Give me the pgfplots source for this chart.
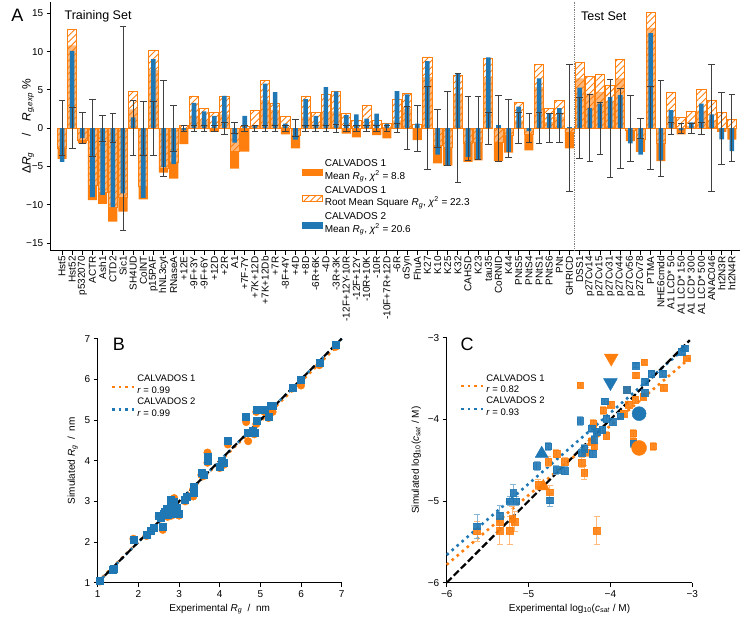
\documentclass[border=0pt]{standalone}
\usepackage{fontspec}
\setmainfont{Liberation Sans}
\usepackage{pgfplots}
\pgfplotsset{compat=1.18}
\usepackage{pgfplotstable}
\usetikzlibrary{patterns.meta}
\definecolor{cone}{HTML}{FF7F0E}
\definecolor{ctwo}{HTML}{1F77B4}
\newcommand{\Rg}{\textit{R}\textsubscript{\textit{g}}}

\pgfplotstableread{
x m1 r1 m2 err z
0 -4.0 -2.7 -4.4 3.6 0
1 10.8 12.9 10.1 2.7 0
2 -2.0 -1.6 -1.3 2.05 0
3 -9.4 -7.5 -9.0 3.75 0
4 -9.9 -8.4 -8.7 1.7 0
5 -12.2 -10.3 -10.3 1.9 0
6 -10.9 -9.0 -8.5 13.3 0
7 2.45 4.85 1.4 3.6 0
8 -9.3 -7.6 -9.1 3.5 0
9 7.6 10.1 9.0 3.5 0
10 -5.8 -5.3 -5.1 6.3 0
11 -6.6 -4.5 -4.7 3.0 0
12 -2.1 0.4 -0.3 0.4 0
13 1.6 4.2 3.3 0.4 0
14 1.0 2.6 2.2 0.4 0
15 -0.5 2.0 1.6 0.4 0
16 1.8 4.2 4.2 0.8 0
17 -5.3 -3.0 -1.9 0.7 0
18 -3.05 0.2 1.6 0.4 0
19 0.3 2.35 0.3 0.4 0
20 3.7 6.2 5.8 0.4 0
21 2.4 3.2 4.7 0.4 0
22 -0.8 1.5 0.6 0.4 0
23 -2.65 -1.0 -1.5 1.1 0
24 1.5 4.2 3.8 0.4 0
25 0.5 2.1 1.6 0.4 0
26 2.0 4.4 5.35 0.4 0
27 2.2 4.85 4.8 0.5 0
28 -0.7 1.9 1.7 0.4 0
29 -1.2 1.0 1.8 0.4 0
30 0.5 3.0 1.25 0.4 0
31 -0.9 1.0 1.9 0.4 0
32 -1.35 0.6 0.6 0.4 0
33 1.0 3.7 4.85 0.6 0
34 2.5 4.5 4.4 2.8 0
35 -1.55 0.5 0.6 3.0 0
36 6.7 9.3 8.75 5.4 0
37 -4.6 -2.2 -3.45 2.5 0
38 -4.9 -2.5 -4.8 4.8 0
39 4.5 6.9 7.15 7.1 0
40 -4.4 -2.0 -3.75 4.2 0
41 -4.2 -1.8 -4.05 4.1 0
42 6.5 9.1 9.25 2.1 0
43 -4.3 -1.8 0.4 4.3 0
44 -3.2 -1.0 -3.1 3.8 0
45 1.0 3.3 2.8 2.0 0
46 -2.9 -0.8 -0.4 1.9 0
47 5.4 8.3 6.5 2.0 0
48 0.8 2.6 1.9 1.9 0
49 1.5 3.65 2.6 1.9 0
50 -2.65 -0.5 0.15 8.3 0
51 6.5 8.6 5.3 4.0 0
52 4.5 6.7 2.6 4.4 0
53 4.75 7.05 3.2 3.4 0
54 3.5 5.6 4.05 6.4 0
55 6.5 9.0 4.3 5.2 0
56 -1.7 -0.3 -2.0 4.3 0
57 -3.1 -1.5 -3.45 1.3 0
58 13.1 15.1 12.4 5.4 0
59 -4.3 -2.0 -4.2 6.3 0
60 1.5 4.65 2.35 0.75 0
61 -0.8 1.4 -0.3 0.65 0
62 0.3 2.2 0.75 0.65 0
63 2.3 5.0 3.2 0.75 0
64 1.0 3.6 1.8 8.3 0
65 -0.5 2.05 -1.45 4.7 0
66 -1.5 1.1 -3.0 4.4 0
}\dataA

\pgfplotstableread{
e s1 s2
1.05 1.03 1.05
1.38 1.32 1.33
1.40 1.34 1.35
1.88 2.08 2.05
2.20 2.15 2.17
2.30 2.26 2.27
2.37 2.33 2.35
2.50 2.62 2.65
2.55 2.58 2.60
2.60 2.30 2.38
2.62 2.67 2.70
2.65 2.72 2.75
2.70 2.78 2.82
2.72 2.62 2.68
2.75 2.76 2.80
2.80 2.85 2.90
2.80 3.00 3.05
2.82 2.65 2.70
2.85 2.90 2.95
2.88 3.08 3.00
2.90 2.70 2.75
2.95 2.80 2.85
3.00 2.65 2.70
3.15 3.00 3.05
3.18 3.10 3.12
3.35 3.30 3.35
3.35 3.12 3.22
3.55 3.65 3.70
3.60 3.62 3.65
3.70 4.20 4.10
3.70 3.95 4.00
4.00 3.82 3.85
4.05 3.98 4.00
4.10 3.90 3.95
4.20 4.40 4.48
4.65 4.95 5.08
4.70 4.48 4.70
4.80 4.70 4.73
4.85 4.65 4.70
4.90 5.20 5.25
4.90 4.90 4.98
5.10 5.20 5.25
5.20 5.05 5.08
5.25 5.30 5.35
5.30 5.20 5.35
5.80 5.78 5.80
6.00 5.85 6.00
6.45 6.35 6.40
6.85 6.80 6.85
}\dataB

\pgfplotstableread{
x y e
-5.63 -5.37 0.12
-5.35 -5.25 0.10
-5.35 -5.36 0.17
-5.23 -5.36 0.17
-5.20 -5.22 0.15
-5.17 -5.25 0.12
-4.74 -4.89 0.08
-4.88 -4.80 0.06
-4.76 -4.52 0.06
-4.66 -4.42 0.05
-4.56 -4.52 0.05
-4.35 -4.53 0.06
-4.32 -4.65 0.08
-4.30 -4.40 0.05
-4.23 -4.27 0.05
-4.20 -4.33 0.05
-4.21 -4.05 0.05
-4.17 -5.36 0.17
-4.09 -3.89 0.05
-4.05 -4.20 0.05
-4.00 -3.82 0.04
-4.37 -3.58 0.03
-3.80 -3.64 0.04
-3.78 -3.82 0.04
-3.72 -4.17 0.05
-3.72 -4.27 0.05
-3.70 -3.76 0.04
-3.60 -3.72 0.04
-3.48 -4.33 0.05
-3.35 -3.61 0.04
-3.84 -3.93 0.04
-3.59 -3.30 0.03
-3.69 -3.46 0.03
-3.07 -3.25 0.03
}\dataCa

\pgfplotstableread{
x y e
-5.63 -5.31 0.15
-5.35 -5.18 0.12
-5.23 -5.00 0.06
-5.19 -4.90 0.10
-5.15 -5.00 0.06
-4.90 -4.57 0.05
-4.76 -4.33 0.05
-4.74 -4.99 0.08
-4.66 -4.62 0.05
-4.56 -4.63 0.05
-4.37 -4.02 0.05
-4.35 -4.41 0.05
-4.32 -4.36 0.05
-4.23 -4.11 0.05
-4.22 -4.42 0.05
-4.20 -4.25 0.05
-4.17 -4.15 0.04
-4.10 -4.13 0.04
-4.07 -3.78 0.04
-4.05 -3.99 0.04
-3.97 -4.03 0.04
-3.80 -3.64 0.04
-3.72 -4.29 0.05
-3.58 -3.67 0.04
-3.58 -3.54 0.03
-3.88 -3.96 0.04
-3.69 -3.34 0.03
-3.50 -3.44 0.03
-3.36 -3.44 0.03
-3.09 -3.13 0.03
-3.13 -3.17 0.03
}\dataCb

\pgfplotsset{
  base/.style={scale only axis, anchor=south west, clip=false,
    axis x line*=bottom, axis y line*=left, tick align=outside,
    major tick length=4pt, tick style={black, line width=0.8pt},
    axis line style={line width=0.8pt},
    ticklabel style={font=\fontsize{10}{12}\selectfont},
    label style={font=\fontsize{10}{12}\selectfont},
    /pgf/number format/assume math mode=true},
  dotleg/.style={legend image code/.code={\draw[##1] (0pt,-5.5pt) -- (22pt,-5.5pt);}},
}

\begin{document}
\begin{tikzpicture}
\path[use as bounding box] (0pt,0pt) rectangle (744pt,626pt);

% ---------------- Panel A ----------------
\begin{axis}[base, at={(50.7pt,375.3pt)}, width=689.3pt, height=248.9pt,
  xmin=-1.12, xmax=66.8, ymin=-16, ymax=16.5,
  xtick={0,...,66},
  xticklabels={Hst5,Hst52,p532070,ACTR,Ash1,CTD2,Sic1,SH4UD,ColNT,p15PAF,hNL3cyt,RNaseA,+12E,-9F+3Y,-9F+6Y,+12D,+2R,A1,+7F-7Y,+7K+12D,+7K+12Db,+7R,-8F+4Y,+4D,+8D,-6R+6K,-4D,-3R+3K,-12F+12Y-10R,-12F+12Y,-10R+10K,-10R,-10F+7R+12D,-6R,αSyn,FhuA,K27,K10,K25,K32,CAHSD,K23,tau35,CoRNID,K44,PNtS5,PNtS4,PNtS1,PNtS6,PNt,GHRICD,DSS1,p27Cv14,p27Cv15,p27Cv31,p27Cv44,p27Cv56,p27Cv78,PTMA,NHE6cmdd,{A1 LCD* 50},{A1 LCD* 150},{A1 LCD* 300},{A1 LCD* 500},ANAC046,ht2N3R,ht2N4R},
  xticklabel style={rotate=90, anchor=east, inner sep=1.5pt},
  ytick={-15,-10,-5,0,5,10,15}, yticklabels={−15,−10,−5,0,5,10,15},
  ylabel={Δ\Rg{} \quad/\quad \textit{R}\textsubscript{\textit{g,exp}} \%},
  ylabel style={at={(axis description cs:-0.033,0.5)}, anchor=center, font=\fontsize{12}{14}\selectfont},
  legend cell align=left,
  legend style={draw=none, fill=none, at={(0.36,0.39)}, anchor=north west,
    font=\fontsize{10}{12.5}\selectfont, row sep=6pt},
]
\addplot[ybar, bar width=0.9, bar shift=0pt, fill=cone, draw=none, forget plot]
  table[x=x, y=m1]{\dataA};
\addplot[ybar, bar width=0.9, bar shift=0pt, fill=white, fill opacity=0.45, draw=none, forget plot]
  table[x=x, y=r1]{\dataA};
\addplot[ybar, bar width=0.9, bar shift=0pt, draw=cone, line width=0.8pt,
  pattern={Lines[angle=45,distance=4.5pt,line width=0.9pt]}, pattern color=cone, forget plot]
  table[x=x, y=r1]{\dataA};
\addplot[ybar, bar width=0.45, bar shift=0pt, fill=ctwo, draw=none, forget plot]
  table[x=x, y=m2]{\dataA};
\addplot[draw=none, mark=none, forget plot,
  error bars/.cd, y dir=both, y explicit,
  error bar style={draw=black!75, line width=0.8pt},
  error mark options={rotate=90, draw=black!75, line width=0.8pt, mark size=3.3pt}]
  table[x=x, y=z, y error=err]{\dataA};
\addplot[gray, densely dotted, line width=0.8pt, forget plot] coordinates {(50.5,-16) (50.5,16.5)};
\node[anchor=west, font=\fontsize{12.5}{14}\selectfont] at (axis cs:-0.1,14.6) {Training Set};
\node[anchor=west, font=\fontsize{12.5}{14}\selectfont] at (axis cs:50.8,14.6) {Test Set};

\addlegendimage{legend image code/.code={\fill[cone] (0pt,-9pt) rectangle (20pt,-3pt);}}
\addlegendentry{\begin{tabular}{@{}l@{}}CALVADOS 1\\Mean \Rg, \textit{χ}\textsuperscript{2} = 8.8\end{tabular}}
\addlegendimage{legend image code/.code={\draw[cone, line width=0.8pt, pattern={Lines[angle=45,distance=4.5pt,line width=0.9pt]}, pattern color=cone] (0pt,-9pt) rectangle (20pt,-3pt);}}
\addlegendentry{\begin{tabular}{@{}l@{}}CALVADOS 1\\Root Mean Square \Rg, \textit{χ}\textsuperscript{2} = 22.3\end{tabular}}
\addlegendimage{legend image code/.code={\fill[ctwo] (0pt,-9pt) rectangle (20pt,-3pt);}}
\addlegendentry{\begin{tabular}{@{}l@{}}CALVADOS 2\\Mean \Rg, \textit{χ}\textsuperscript{2} = 20.6\end{tabular}}
\end{axis}

% ---------------- Panel B ----------------
\begin{axis}[base, at={(97.7pt,43.3pt)}, width=244pt, height=244pt,
  xmin=1, xmax=7, ymin=1, ymax=7, xtick={1,...,7}, ytick={1,...,7},
  xlabel={Experimental \Rg{} ~/~ nm}, ylabel={Simulated \Rg{} ~/~ nm},
  legend cell align=left,
  legend style={draw=none, fill=none, at={(0.04,0.873)}, anchor=north west,
    font=\fontsize{9.5}{11.5}\selectfont, row sep=3.5pt},
]
\addplot[cone, line width=2.6pt, dash pattern=on 2.6pt off 4pt, dotleg] coordinates {(1,1.02) (7,6.93)};
\addlegendentry{\begin{tabular}{@{}l@{}}CALVADOS 1\\\textit{r} = 0.99\end{tabular}}
\addplot[ctwo, line width=2.6pt, dash pattern=on 2.6pt off 4pt, dotleg] coordinates {(1,1.0) (7,7.0)};
\addlegendentry{\begin{tabular}{@{}l@{}}CALVADOS 2\\\textit{r} = 0.99\end{tabular}}
\addplot[black, line width=2.2pt, dash pattern=on 7pt off 3pt, forget plot] coordinates {(1,1) (7,7)};
\addplot[only marks, mark=*, mark size=3.8pt, cone, forget plot] table[x=e, y=s1]{\dataB};
\addplot[only marks, mark=square*, mark size=3.5pt, ctwo, forget plot] table[x=e, y=s2]{\dataB};
\end{axis}

% ---------------- Panel C ----------------
\begin{axis}[base, at={(446.7pt,43.3pt)}, width=245.6pt, height=245pt,
  xmin=-6, xmax=-3, ymin=-6, ymax=-3,
  xtick={-6,-5,-4,-3}, xticklabels={−6,−5,−4,−3},
  ytick={-6,-5,-4,-3}, yticklabels={−6,−5,−4,−3},
  xlabel={Experimental log\textsubscript{10}(\textit{c}\textsubscript{\textit{sat}} / M)},
  ylabel={Simulated log\textsubscript{10}(\textit{c}\textsubscript{\textit{sat}} / M)},
  legend cell align=left,
  legend style={draw=none, fill=none, at={(0.04,0.873)}, anchor=north west,
    font=\fontsize{9.5}{11.5}\selectfont, row sep=3.5pt},
]
\addplot[cone, line width=2.6pt, dash pattern=on 2.6pt off 4pt, dotleg] coordinates {(-6,-5.78) (-3.03,-3.25)};
\addlegendentry{\begin{tabular}{@{}l@{}}CALVADOS 1\\\textit{r} = 0.82\end{tabular}}
\addplot[ctwo, line width=2.6pt, dash pattern=on 2.6pt off 4pt, dotleg] coordinates {(-6,-5.66) (-3.07,-3.11)};
\addlegendentry{\begin{tabular}{@{}l@{}}CALVADOS 2\\\textit{r} = 0.93\end{tabular}}
\addplot[black, line width=2.2pt, dash pattern=on 7pt off 3pt, forget plot] coordinates {(-6,-6) (-3.03,-3.03)};
\addplot[only marks, mark=square*, mark size=3.3pt, cone, opacity=0.9, forget plot,
  error bars/.cd, y dir=both, y explicit,
  error bar style={cone!60, line width=0.9pt},
  error mark options={rotate=90, cone!60, line width=0.9pt, mark size=3pt}]
  table[x=x, y=y, y error=e]{\dataCa};
\addplot[only marks, mark=square*, mark size=3.3pt, ctwo, opacity=0.9, forget plot,
  error bars/.cd, y dir=both, y explicit,
  error bar style={ctwo!60, line width=0.9pt},
  error mark options={rotate=90, ctwo!60, line width=0.9pt, mark size=3pt}]
  table[x=x, y=y, y error=e]{\dataCb};
\addplot[only marks, mark=triangle*, mark options={rotate=180}, mark size=8pt, cone, forget plot] coordinates {(-3.99,-3.25)};
\addplot[only marks, mark=triangle*, mark options={rotate=180}, mark size=8pt, ctwo, forget plot] coordinates {(-4.0,-3.55)};
\addplot[only marks, mark=*, mark size=7.5pt, cone, forget plot] coordinates {(-3.65,-4.35)};
\addplot[only marks, mark=*, mark size=7pt, ctwo, forget plot] coordinates {(-3.65,-3.93)};
\addplot[only marks, mark=triangle*, mark size=7.5pt, ctwo, forget plot] coordinates {(-4.84,-4.42)};
\addplot[only marks, mark=triangle*, mark size=7pt, cone, forget plot] coordinates {(-4.82,-4.82)};
\end{axis}

\node[font=\fontsize{18}{20}\selectfont] at (17.5pt,611pt) {A};
\node[font=\fontsize{18}{20}\selectfont] at (119pt,282pt) {B};
\node[font=\fontsize{18}{20}\selectfont] at (467pt,282pt) {C};
\end{tikzpicture}
\end{document}
